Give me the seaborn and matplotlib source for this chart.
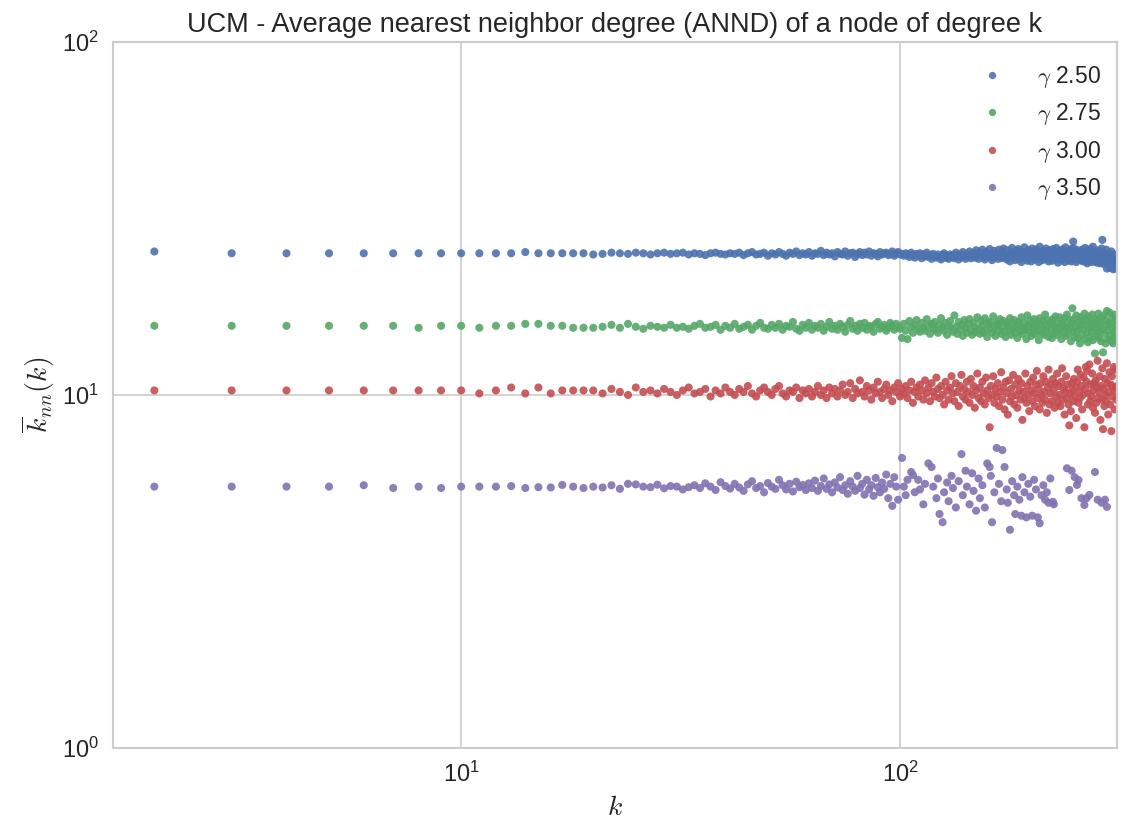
import numpy as np
import pandas as pd
import matplotlib
matplotlib.use("Agg")
import matplotlib.pyplot as plt
import seaborn as sns

# ---------------- data ----------------
series_labels = [r"$\gamma$ 2.50", r"$\gamma$ 2.75", r"$\gamma$ 3.00", r"$\gamma$ 3.50"]
series_colors = ["#4C72B0", "#55A868", "#C44E52", "#8172B2"]

# degrees k = 2 ... 312 (every integer degree present for the first three series)
k_full = list(range(2, 313))

knn_g250 = [
    25.5, 25.2, 25.2, 25.2, 25.2, 25.2, 25.2, 25.2, 25.2, 25.2,
    25.2, 25.2, 25.4, 25.2, 25.2, 25.2, 25.2, 25.2, 25.0, 25.1,
    25.3, 25.2, 25.1, 25.3, 25.2, 25.0, 25.2, 25.3, 25.1, 25.2,
    25.3, 25.0, 25.2, 25.1, 24.9, 25.2, 25.3, 25.1, 25.0, 25.2,
    25.1, 25.3, 24.9, 25.2, 25.4, 25.0, 25.1, 25.3, 24.8, 25.2,
    25.0, 25.4, 25.1, 24.8, 25.3, 25.1, 25.5, 24.9, 25.2, 25.0,
    25.4, 24.8, 25.2, 25.1, 25.6, 24.9, 25.3, 25.0, 25.2, 24.7,
    25.4, 25.1, 25.0, 25.5, 24.8, 25.2, 25.3, 24.6, 25.1, 25.4,
    24.9, 25.3, 25.0, 25.5, 24.8, 25.2, 25.1, 24.7, 25.4, 25.0,
    25.2, 25.3, 24.9, 25.1, 25.5, 24.8, 25.2, 25.4, 25.0, 25.1,
    24.8, 25.2, 25.0, 24.6, 25.3, 24.9, 24.5, 25.1, 24.8, 25.2,
    24.4, 25.0, 24.7, 25.3, 24.6, 24.9, 24.3, 25.1, 24.7, 24.5,
    25.0, 24.6, 24.2, 24.9, 25.2, 24.5, 24.8, 24.3, 25.0, 24.6,
    24.9, 24.4, 25.3, 24.7, 24.2, 25.0, 24.6, 25.4, 24.8, 24.3,
    25.1, 24.7, 25.5, 24.4, 24.9, 25.2, 24.5, 25.7, 24.8, 24.3,
    25.3, 24.9, 25.8, 24.6, 24.2, 25.4, 24.8, 25.0, 25.9, 24.5,
    24.1, 25.2, 25.6, 24.7, 25.0, 24.3, 25.8, 24.9, 24.4, 25.5,
    26.0, 24.6, 25.1, 24.2, 25.7, 24.8, 23.9, 25.3, 26.1, 24.5,
    25.0, 24.1, 25.6, 24.7, 25.9, 24.3, 25.2, 23.8, 25.5, 24.9,
    26.2, 24.4, 25.0, 24.0, 25.7, 24.8, 25.3, 23.9, 26.0, 24.6,
    25.1, 24.2, 25.8, 24.5, 25.4, 23.8, 26.3, 24.7, 25.0, 24.1,
    25.6, 24.9, 24.3, 26.0, 24.6, 25.2, 23.9, 25.7, 24.4, 25.1,
    24.0, 25.9, 24.7, 25.3, 24.2, 26.1, 24.8, 23.7, 25.5, 24.5,
    25.0, 24.1, 25.8, 24.6, 25.4, 23.8, 26.2, 24.9, 24.3, 25.6,
    24.0, 25.2, 24.7, 25.9, 23.9, 25.1, 27.2, 26.0, 24.2, 25.5,
    23.8, 24.9, 25.7, 24.4, 25.0, 24.1, 25.3, 24.7, 25.8, 23.9,
    25.4, 24.5, 26.1, 24.0, 25.0, 23.6, 25.6, 24.8, 24.2, 25.9,
    24.4, 23.8, 25.2, 26.3, 24.6, 23.9, 25.5, 24.3, 25.0, 23.7,
    25.7, 24.1, 24.8, 23.6, 25.3, 24.5, 26.0, 27.5, 24.0, 23.5,
    25.2, 24.7, 23.9, 25.8, 22.8, 24.4, 25.1, 23.7, 24.9, 22.9,
    24.2, 25.5, 23.6, 24.8, 22.7, 25.0, 24.1, 23.4, 22.8, 24.6,
    23.9,
]

knn_g275 = [
    15.7, 15.7, 15.7, 15.7, 15.7, 15.7, 15.5, 15.7, 15.7, 15.5,
    15.7, 15.7, 15.9, 15.9, 15.7, 15.7, 15.5, 15.5, 15.5, 15.6,
    15.8, 15.5, 15.9, 15.6, 15.4, 15.7, 15.6, 15.5, 15.8, 15.5,
    15.6, 15.4, 15.7, 15.9, 15.5, 15.6, 15.8, 15.3, 15.7, 15.5,
    15.9, 15.4, 15.6, 15.8, 15.3, 15.7, 16.0, 15.5, 15.4, 15.8,
    15.5, 15.9, 15.3, 15.7, 15.6, 16.1, 15.4, 15.2, 15.8, 15.5,
    16.0, 15.3, 15.7, 15.5, 15.9, 15.2, 15.6, 16.1, 15.4, 15.7,
    15.3, 15.9, 15.6, 15.1, 15.8, 16.2, 15.4, 15.7, 15.2, 15.9,
    15.5, 16.0, 15.3, 15.7, 15.6, 15.1, 15.9, 16.1, 15.4, 15.6,
    15.8, 15.2, 15.5, 16.0, 15.7, 15.3, 15.9, 15.6, 15.4, 14.5,
    15.9, 15.2, 14.4, 16.2, 15.6, 15.0, 15.8, 16.3, 15.4, 15.1,
    16.0, 15.5, 15.2, 16.4, 15.7, 14.9, 15.9, 15.4, 16.1, 15.3,
    15.0, 15.8, 16.5, 15.5, 15.2, 16.0, 14.8, 15.7, 16.2, 15.4,
    15.1, 16.8, 15.6, 14.9, 16.1, 15.3, 15.8, 14.7, 16.3, 15.5,
    15.0, 15.9, 16.4, 15.2, 14.8, 16.0, 15.6, 15.1, 16.6, 15.4,
    14.9, 16.2, 15.7, 15.0, 16.5, 15.3, 14.6, 15.9, 16.1, 15.4,
    15.0, 16.7, 15.5, 14.7, 16.0, 15.8, 15.2, 16.4, 14.9, 15.6,
    16.2, 15.1, 14.6, 16.0, 15.7, 15.3, 16.5, 14.8, 15.9, 15.4,
    16.3, 15.0, 15.6, 14.5, 16.1, 15.8, 15.2, 16.6, 14.9, 15.5,
    16.0, 15.3, 14.4, 16.8, 15.7, 15.1, 16.2, 14.7, 15.9, 15.4,
    16.4, 14.9, 15.6, 16.1, 15.2, 14.3, 16.5, 15.8, 15.0, 16.2,
    15.4, 14.8, 16.9, 15.6, 15.1, 16.3, 14.6, 15.9, 16.0, 15.3,
    14.5, 16.4, 15.7, 15.0, 16.7, 15.5, 14.8, 16.1, 15.2, 16.6,
    15.4, 14.4, 16.2, 15.8, 15.0, 16.5, 14.7, 15.6, 16.9, 15.3,
    14.9, 16.3, 15.5, 14.2, 16.0, 17.6, 15.1, 16.4, 14.6, 15.7,
    16.8, 15.2, 14.5, 16.1, 15.4, 14.0, 16.6, 15.9, 14.8, 16.2,
    15.3, 17.0, 14.4, 15.7, 16.3, 15.0, 14.1, 16.7, 15.5, 14.6,
    16.0, 15.2, 16.9, 14.3, 15.8, 16.4, 13.1, 15.4, 14.7, 16.2,
    15.0, 17.0, 14.5, 16.1, 15.6, 14.2, 16.6, 15.3, 13.2, 16.8,
    14.9, 16.3, 14.0, 15.7, 17.3, 15.2, 14.4, 16.0, 17.1, 14.7,
    15.9, 14.2, 16.5, 15.4, 14.0, 16.9, 15.1, 14.6, 16.3, 14.3,
    15.8,
]

knn_g300 = [
    10.3, 10.3, 10.3, 10.3, 10.3, 10.3, 10.3, 10.3, 10.3, 10.1,
    10.3, 10.5, 10.1, 10.5, 10.1, 10.3, 10.3, 10.3, 10.3, 10.1,
    10.4, 10.2, 10.0, 10.5, 10.2, 10.3, 10.1, 10.4, 10.2, 10.0,
    10.3, 10.5, 10.1, 10.2, 10.4, 9.9, 10.3, 10.1, 10.5, 10.2,
    10.0, 10.4, 10.2, 10.6, 10.1, 9.9, 10.3, 10.5, 10.2, 10.0,
    10.4, 10.6, 10.1, 9.9, 10.3, 10.2, 10.5, 9.8, 10.3, 10.1,
    10.4, 9.9, 10.2, 10.6, 10.0, 10.3, 9.8, 10.5, 10.1, 10.4,
    9.9, 10.3, 10.7, 10.0, 10.2, 10.8, 9.8, 10.4, 10.1, 11.0,
    10.2, 9.9, 10.6, 10.3, 9.7, 10.5, 10.1, 10.9, 10.2, 9.8,
    10.4, 10.7, 10.0, 10.3, 9.6, 10.5, 10.2, 10.8, 9.9, 10.4,
    10.1, 10.6, 9.8, 10.3, 10.9, 9.5, 10.2, 10.5, 9.9, 10.7,
    10.3, 9.7, 11.0, 10.1, 10.5, 9.6, 10.8, 10.2, 9.9, 11.2,
    10.4, 9.8, 10.6, 10.0, 9.4, 10.9, 10.3, 9.7, 10.5, 11.3,
    10.1, 9.6, 10.8, 10.2, 9.3, 10.6, 11.4, 9.9, 10.4, 9.7,
    10.9, 10.2, 9.5, 11.1, 10.0, 10.6, 9.2, 10.3, 11.5, 9.8,
    10.5, 9.6, 10.9, 10.1, 9.4, 11.2, 10.3, 9.8, 8.1, 10.6,
    10.0, 11.3, 9.5, 10.4, 9.9, 10.8, 9.3, 10.2, 11.6, 9.7,
    10.5, 9.1, 10.9, 10.1, 8.8, 11.0, 9.6, 10.4, 9.9, 11.4,
    9.4, 10.7, 10.0, 9.2, 11.1, 10.3, 9.7, 10.8, 8.5, 10.2,
    9.8, 11.5, 9.5, 10.6, 10.0, 9.0, 10.9, 10.3, 9.6, 11.2,
    10.1, 9.3, 10.7, 11.7, 9.8, 10.4, 9.1, 10.8, 10.0, 9.5,
    11.3, 10.2, 9.7, 10.9, 8.9, 10.5, 11.8, 9.4, 10.1, 10.7,
    9.6, 11.1, 10.3, 9.2, 10.8, 9.9, 11.5, 9.5, 10.6, 10.0,
    9.3, 10.9, 11.9, 9.7, 10.4, 8.8, 10.2, 11.3, 9.8, 10.7,
    9.4, 8.2, 10.1, 9.0, 10.8, 10.3, 9.6, 11.1, 9.9, 10.5,
    8.6, 10.9, 11.8, 9.5, 10.2, 9.8, 11.4, 10.6, 9.1, 10.0,
    11.2, 8.1, 10.4, 12.0, 10.9, 11.7, 9.4, 10.1, 12.2, 9.6,
    10.7, 9.9, 11.5, 9.2, 10.3, 10.8, 8.9, 11.0, 9.5, 10.5,
    12.5, 9.8, 10.2, 11.3, 8.5, 10.6, 9.7, 11.9, 8.0, 10.4,
    9.3, 11.1, 10.0, 9.6, 12.3, 10.8, 8.8, 10.2, 11.6, 9.4,
    10.7, 7.9, 11.3, 9.9, 10.5, 12.0, 9.1, 10.3, 11.8, 9.7,
    10.6,
]

# gamma 3.50: every degree 2..99, then only the degrees that occur
k_g350 = list(range(2, 100)) + [
    101, 102, 103, 104, 106, 107, 108, 110, 111, 113, 114, 116, 118, 119,
    121, 122, 123, 125, 126, 128, 129, 131, 132, 134, 136, 138, 139, 141,
    142, 144, 146, 147, 149, 151, 152, 154, 156, 158, 160, 161, 162, 164,
    166, 168, 170, 171, 173, 175, 176, 178, 180, 182, 183, 185, 187, 189,
    190, 192, 194, 196, 198, 200, 202, 204, 206, 208, 210, 212, 214, 216,
    218, 220, 223, 224, 240, 243, 246, 250, 253, 255, 259, 263, 266, 270,
    278, 282, 288, 293, 296,
]
knn_g350 = [
    5.50, 5.50, 5.50, 5.50, 5.55, 5.45, 5.50, 5.45, 5.50, 5.50,
    5.50, 5.52, 5.45, 5.48, 5.47, 5.56, 5.50, 5.45, 5.50, 5.47,
    5.55, 5.42, 5.60, 5.58, 5.50, 5.48, 5.57, 5.44, 5.52, 5.50,
    5.40, 5.48, 5.55, 5.45, 5.62, 5.50, 5.38, 5.66, 5.52, 5.43,
    5.60, 5.47, 5.35, 5.58, 5.70, 5.45, 5.52, 5.30, 5.63, 5.50,
    5.42, 5.75, 5.55, 5.40, 5.60, 5.33, 5.68, 5.48, 5.56, 5.38,
    5.62, 5.45, 5.72, 5.35, 5.52, 5.80, 5.42, 5.58, 5.30, 5.65,
    5.47, 5.85, 5.38, 5.55, 5.25, 5.70, 5.50, 5.35, 5.90, 5.45,
    5.60, 5.22, 5.75, 5.40, 5.55, 5.18, 5.82, 5.48, 5.30, 5.65,
    5.42, 5.95, 5.10, 5.60, 4.85, 5.85, 5.50, 5.05,
    6.63, 5.50, 5.20, 5.75, 6.05, 5.93, 5.30, 5.75, 5.40, 4.90, 5.60, 6.40, 6.25, 5.50,
    5.10, 5.80, 4.60, 4.36, 5.30, 5.65, 5.00, 5.90, 5.45, 4.80, 5.70, 6.80, 5.20, 6.10,
    5.50, 4.90, 6.00, 5.35, 4.70, 5.80, 5.10, 5.55, 4.80, 6.40, 6.25, 5.90, 4.36, 5.30,
    7.08, 5.60, 5.00, 6.98, 6.25, 5.40, 4.95, 4.15, 5.70, 5.20, 4.60, 5.50, 5.05, 4.55,
    5.85, 5.30, 4.50, 5.60, 5.15, 4.55, 5.75, 5.40, 4.50, 4.33, 5.20, 5.55, 5.05, 5.30,
    4.95, 5.80, 4.98, 4.90, 6.20, 5.38, 6.10, 5.85, 5.56, 5.74, 5.10, 4.88, 5.10, 5.21,
    6.05, 5.05, 4.95, 5.05, 4.82,
]

# ---------------- build long table ----------------
frames = []
for lab, ks, vals in [
    (series_labels[0], k_full, knn_g250),
    (series_labels[1], k_full, knn_g275),
    (series_labels[2], k_full, knn_g300),
    (series_labels[3], k_g350, knn_g350),
]:
    frames.append(pd.DataFrame({"k": ks, "knn": vals, "series": lab}))
df = pd.concat(frames, ignore_index=True)

# ---------------- style ----------------
sns.set_theme(style="whitegrid")
plt.rcParams["font.family"] = ["Liberation Sans", "DejaVu Sans"]
plt.rcParams["mathtext.fontset"] = "cm"
plt.rcParams["axes.edgecolor"] = "#cccccc"
plt.rcParams["grid.color"] = "#cccccc"

fig = plt.figure(figsize=(11.28, 8.36), dpi=100)
ax = fig.add_axes([0.1002, 0.1053, 0.8900, 0.8445])

sns.scatterplot(
    data=df, x="k", y="knn", hue="series",
    hue_order=series_labels, palette=series_colors,
    s=34, linewidth=0, alpha=0.9, ax=ax, legend=True,
)

ax.set_xscale("log")
ax.set_yscale("log")
ax.set_xlim(1.61, 312)
ax.set_ylim(1, 100)
ax.minorticks_off()
ax.grid(True, which="major", color="#cccccc", linewidth=1.2)
for sp in ax.spines.values():
    sp.set_color("#cccccc")
    sp.set_linewidth(1.5)

ax.tick_params(axis="both", labelsize=17, colors="#262626", pad=10, length=0)
ax.set_xlabel(r"$k$", fontsize=20, labelpad=6)
ax.set_ylabel(r"$\overline{k}_{nn}(k)$", fontsize=20, labelpad=4)
ax.set_title("UCM - Average nearest neighbor degree (ANND) of a node of degree k",
             fontsize=19.5, color="#262626", pad=7)

handles, labels = ax.get_legend_handles_labels()
ax.legend(handles, labels, loc="upper right", frameon=False, fontsize=16.5,
          labelspacing=0.5, handletextpad=1.0, borderaxespad=0.55, markerscale=0.9,
          bbox_to_anchor=(1.006, 1.0))

fig.savefig("out.png", dpi=100)
